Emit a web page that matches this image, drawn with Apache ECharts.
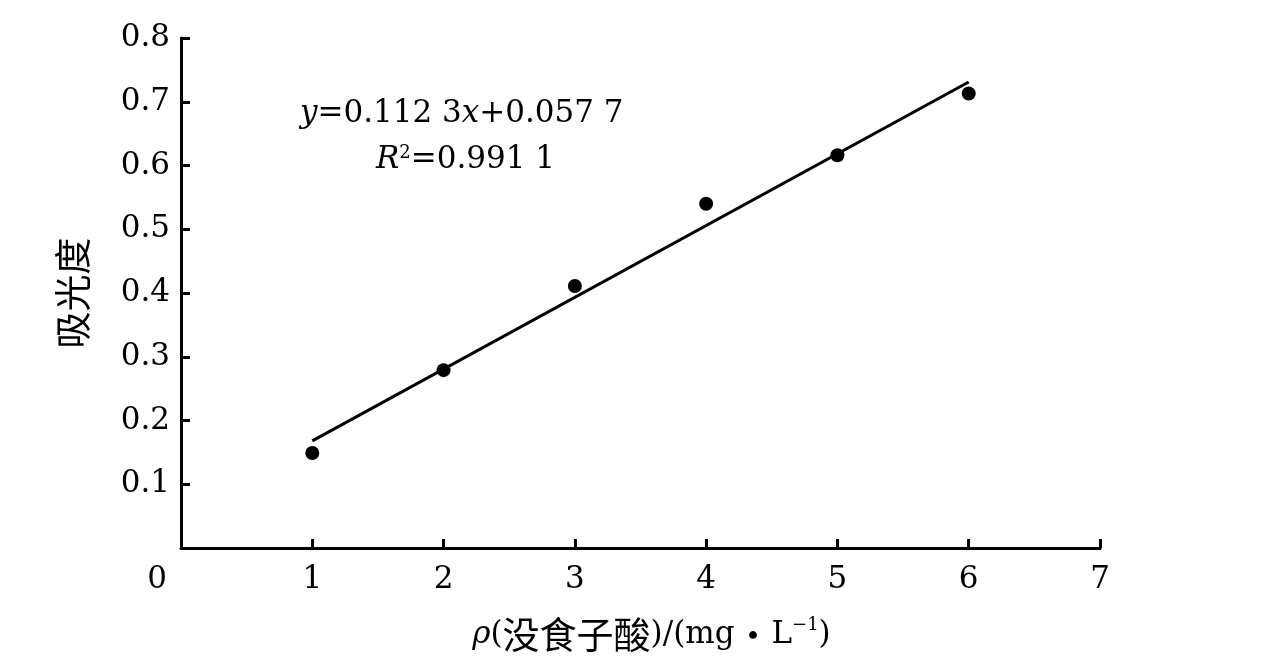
<!DOCTYPE html>
<html>
<head>
<meta charset="utf-8">
<script src="https://cdn.jsdelivr.net/npm/echarts@6/dist/echarts.min.js"></script>
<style>
    html, body { margin: 0; padding: 0; background: #fff; }
    #main { width: 1276px; height: 663px; }
</style>
</head>
<body>
<div id="main"></div>
<script>
// 没食子酸浓度 (mg/L)
var conc = [1, 2, 3, 4, 5, 6];
// 吸光度 measured
var absorb = [0.149, 0.279, 0.411, 0.540, 0.616, 0.713];
// fitted line ends
var fitX = [1, 6];
var fitY = [0.168, 0.731];
var xTicks = [0, 1, 2, 3, 4, 5, 6, 7];
var yTicks = [0.1, 0.2, 0.3, 0.4, 0.5, 0.6, 0.7, 0.8];

var serif = '"DejaVu Serif", "Liberation Serif", serif';
var cjk = '"Noto Sans CJK SC", serif';

var dom = document.getElementById("main");
var myChart = echarts.init(dom);

var scatterData = [];
for (var i in conc) {
    scatterData.push([conc[i], absorb[i]]);
}
var lineData = [];
for (var j in fitX) {
    lineData.push([fitX[j], fitY[j]]);
}

var option = {
    backgroundColor: '#fff',
    animation: false,
    grid: {
        left: 181,
        right: 176,
        top: 38,
        bottom: 115
    },
    xAxis: {
        type: 'value',
        min: 0,
        max: 7,
        interval: 1,
        splitLine: {show: false},
        axisLine: {show: true, lineStyle: {color: '#000', width: 3}},
        axisTick: {show: true, inside: true, length: 9, lineStyle: {color: '#000', width: 3}},
        axisLabel: {
            margin: 16,
            color: '#000',
            fontFamily: serif,
            fontSize: 31,
            formatter: function (v) {
                if (v === 0) {
                    return '{z|0}';
                }
                return xTicks.indexOf(v) >= 0 ? String(v) : '';
            },
            rich: {
                z: {fontFamily: serif, fontSize: 31, color: '#000', padding: [0, 48, 0, 0]}
            }
        },
        name: '{i|ρ}{t|(}{c|没食子酸}{t|)/(mg}{c|·}{t|L}{s|−1}{t|)}',
        nameLocation: 'middle',
        nameGap: 68,
        nameTextStyle: {
            padding: [0, 0, 0, 22],
            rich: {
                i: {fontFamily: serif, fontSize: 31, fontStyle: 'italic', color: '#000'},
                t: {fontFamily: serif, fontSize: 31, color: '#000'},
                c: {fontFamily: cjk, fontSize: 37, color: '#000'},
                s: {fontFamily: serif, fontSize: 18, color: '#000', verticalAlign: 'top', padding: [0, 0, 14, 0]}
            }
        }
    },
    yAxis: {
        type: 'value',
        min: 0,
        max: 0.8,
        interval: 0.1,
        splitLine: {show: false},
        axisLine: {show: true, lineStyle: {color: '#000', width: 3}},
        axisTick: {show: true, inside: true, length: 9, lineStyle: {color: '#000', width: 3}},
        axisLabel: {
            margin: 11,
            color: '#000',
            fontFamily: serif,
            fontSize: 31,
            formatter: function (v) {
                if (v < 0.05) {
                    return '';
                }
                return v.toFixed(1);
            }
        },
        name: '吸光度',
        nameLocation: 'middle',
        nameGap: 90,
        nameTextStyle: {fontFamily: cjk, fontSize: 37, color: '#000'}
    },
    graphic: [
        {
            type: 'text',
            left: 300,
            top: 98,
            style: {
                text: '{i|y}{t|=0.112 3}{i|x}{t|+0.057 7}',
                rich: {
                    i: {fontFamily: serif, fontSize: 31, fontStyle: 'italic', fill: '#000'},
                    t: {fontFamily: serif, fontSize: 31, fill: '#000'}
                }
            }
        },
        {
            type: 'text',
            left: 376,
            top: 144,
            style: {
                text: '{i|R}{s|2}{t|=0.991 1}',
                rich: {
                    i: {fontFamily: serif, fontSize: 31, fontStyle: 'italic', fill: '#000'},
                    s: {fontFamily: serif, fontSize: 18, fill: '#000', verticalAlign: 'top', padding: [0, 0, 14, 0]},
                    t: {fontFamily: serif, fontSize: 31, fill: '#000'}
                }
            }
        }
    ],
    series: [
        {
            name: '拟合',
            type: 'line',
            data: lineData,
            symbol: 'none',
            lineStyle: {color: '#000', width: 3},
            z: 2
        },
        {
            name: '吸光度',
            type: 'scatter',
            data: scatterData,
            symbol: 'circle',
            symbolSize: 14,
            itemStyle: {color: '#000', opacity: 1},
            z: 3
        }
    ]
};
if (option && typeof option === "object") {
    myChart.setOption(option, true);
}
</script>
</body>
</html>
